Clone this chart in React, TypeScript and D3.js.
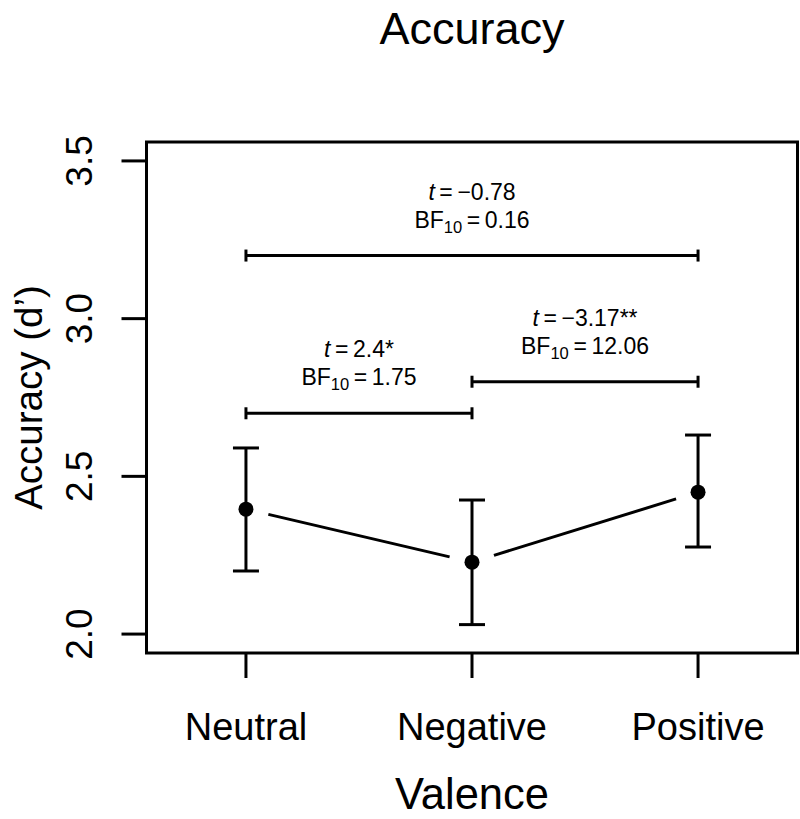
import React from "react";
import * as d3 from "d3";

const categories = ["Neutral", "Negative", "Positive"];
const means = [2.396, 2.228, 2.45];
const lower = [2.2, 2.03, 2.276];
const upper = [2.59, 2.425, 2.631];
const yTicks = [2.0, 2.5, 3.0, 3.5];

const comparisons = [
  { from: 1, to: 2, level: 2.7, t: "2.4*", bf: "1.75" },
  { from: 2, to: 3, level: 2.8, t: "\u22123.17**", bf: "12.06" },
  { from: 1, to: 3, level: 3.2, t: "\u22120.78", bf: "0.16" },
];

const FONT = "'Liberation Sans', Arial, Helvetica, sans-serif";

export default function App() {
  const W = 800;
  const H = 819;
  const x = d3.scaleLinear().domain([0.56, 3.44]).range([146.5, 797.5]);
  const y = d3.scaleLinear().domain([1.94, 3.56]).range([653, 142]);
  const [x0, x1] = x.range();
  const [yb, yt] = y.range();

  const pts = means.map((m, i) => [x(i + 1), y(m)] as [number, number]);
  const gap = 23;
  const segs = [] as { x1: number; y1: number; x2: number; y2: number }[];
  for (let i = 0; i < pts.length - 1; i++) {
    const [ax, ay] = pts[i];
    const [bx, by] = pts[i + 1];
    const len = Math.hypot(bx - ax, by - ay);
    const ux = (bx - ax) / len;
    const uy = (by - ay) / len;
    segs.push({ x1: ax + ux * gap, y1: ay + uy * gap, x2: bx - ux * gap, y2: by - uy * gap });
  }

  const sw = 3;
  const capHalf = 13;
  const annFont = 23;
  const eq = "\u2009=\u2009";

  return (
    <svg
      width={W}
      height={H}
      style={{ position: "absolute", left: 0, top: 0, background: "#fff" }}
      fontFamily={FONT}
    >
      <rect x={0} y={0} width={W} height={H} fill="#fff" />
      {/* title */}
      <text x={472} y={44} fontSize={45} textAnchor="middle" fill="#000">
        Accuracy
      </text>
      {/* box */}
      <rect x={x0} y={yt} width={x1 - x0} height={yb - yt} fill="none" stroke="#000" strokeWidth={sw} />
      {/* y axis */}
      {yTicks.map((t) => (
        <g key={t}>
          <line x1={x0 - 25} x2={x0} y1={y(t)} y2={y(t)} stroke="#000" strokeWidth={sw} />
          <text
            transform={`translate(${92},${y(t)}) rotate(-90)`}
            textAnchor="middle"
            fontSize={37}
            fill="#000"
          >
            {t.toFixed(1)}
          </text>
        </g>
      ))}
      <text
        transform={`translate(${42},${(yt + yb) / 2}) rotate(-90)`}
        textAnchor="middle"
        fontSize={38.5}
        fill="#000"
      >
        Accuracy (d’)
      </text>
      {/* x axis */}
      {categories.map((c, i) => (
        <g key={c}>
          <line x1={x(i + 1)} x2={x(i + 1)} y1={yb} y2={yb + 25} stroke="#000" strokeWidth={sw} />
          <text x={x(i + 1)} y={740} textAnchor="middle" fontSize={38} fill="#000">
            {c}
          </text>
        </g>
      ))}
      <text x={(x0 + x1) / 2} y={809} textAnchor="middle" fontSize={43.5} fill="#000">
        Valence
      </text>
      {/* connecting lines */}
      {segs.map((s, i) => (
        <line key={i} {...s} stroke="#000" strokeWidth={sw} />
      ))}
      {/* error bars */}
      {categories.map((c, i) => {
        const cx = x(i + 1);
        return (
          <g key={c}>
            <line x1={cx} x2={cx} y1={y(lower[i])} y2={y(upper[i])} stroke="#000" strokeWidth={sw} />
            <line x1={cx - capHalf} x2={cx + capHalf} y1={y(lower[i])} y2={y(lower[i])} stroke="#000" strokeWidth={sw} />
            <line x1={cx - capHalf} x2={cx + capHalf} y1={y(upper[i])} y2={y(upper[i])} stroke="#000" strokeWidth={sw} />
            <circle cx={cx} cy={y(means[i])} r={7.5} fill="#000" />
          </g>
        );
      })}
      {/* comparisons */}
      {comparisons.map((cmp, i) => {
        const xa = x(cmp.from);
        const xb = x(cmp.to);
        const yy = y(cmp.level);
        const mid = (xa + xb) / 2;
        return (
          <g key={i}>
            <line x1={xa} x2={xb} y1={yy} y2={yy} stroke="#000" strokeWidth={sw} />
            <line x1={xa} x2={xa} y1={yy - 6} y2={yy + 6} stroke="#000" strokeWidth={sw} />
            <line x1={xb} x2={xb} y1={yy - 6} y2={yy + 6} stroke="#000" strokeWidth={sw} />
            <text x={mid} y={yy - 56} textAnchor="middle" fontSize={annFont} fill="#000">
              <tspan fontStyle="italic">t</tspan>
              <tspan>{eq + cmp.t}</tspan>
            </text>
            <text x={mid} y={yy - 28} textAnchor="middle" fontSize={annFont} fill="#000">
              <tspan>BF</tspan>
              <tspan fontSize={annFont * 0.72} dy={5}>10</tspan>
              <tspan dy={-5}>{eq + cmp.bf}</tspan>
            </text>
          </g>
        );
      })}
    </svg>
  );
}
